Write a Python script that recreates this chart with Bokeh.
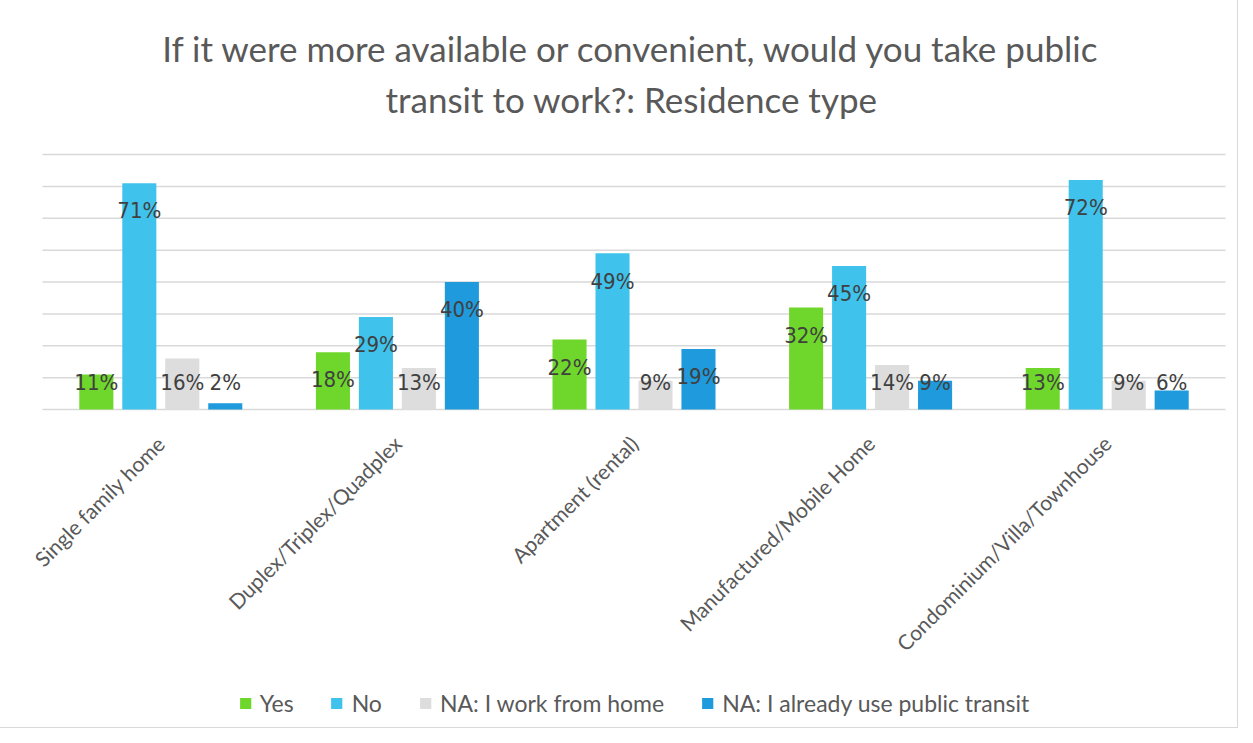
import math
from bokeh.plotting import figure
from bokeh.models import (ColumnDataSource, FactorRange, Range1d, FixedTicker,
                          Label, Legend, LegendItem)
from bokeh.transform import dodge
from bokeh.core.properties import value
from bokeh.embed import file_html
from bokeh.resources import INLINE

# ---------------- data ----------------
categories = ["Single family home", "Duplex/Triplex/Quadplex", "Apartment (rental)",
              "Manufactured/Mobile Home", "Condominium/Villa/Townhouse"]
series_names = ["Yes", "No", "NA: I work from home", "NA: I already use public transit"]
yes = [11, 18, 22, 32, 13]
no = [71, 29, 49, 45, 72]
work_from_home = [16, 13, 9, 14, 9]
already_transit = [2, 40, 19, 9, 6]
y_ticks = [0, 10, 20, 30, 40, 50, 60, 70, 80]
colors = ["#6FD72B", "#3FC3EC", "#DDDDDD", "#1F9ADC"]
title_lines = ["If it were more available or convenient, would you take public",
               "transit to work?: Residence type"]

series_values = [yes, no, work_from_home, already_transit]
offsets = [-0.2725, -0.0908, 0.0908, 0.2725]
bar_width = 0.144

# ---------------- layout ----------------
W, H = 1237, 727
base_px = 409               # canvas px row of value 0
px_per_unit = 255 / 80.0    # 80% spans 255 px
y_top = base_px / px_per_unit
y_bottom = -(H - base_px) / px_per_unit

TXT = "#595959"
title_font = "Lato"

# categories span 1183 px; frame is 1207 px -> 12 px padding on each side
x_range = FactorRange(*categories, range_padding=24 / 1183.0)

p = figure(width=W, height=H, x_range=x_range,
           y_range=Range1d(y_bottom, y_top), output_backend="svg", toolbar_location=None,
           min_border_left=30, min_border_right=0, min_border_top=0,
           min_border_bottom=0)
p.outline_line_color = None
p.background_fill_color = "white"
p.border_fill_color = "white"
p.styles = {"outline": "1px solid #D9D9D9"}

p.yaxis.visible = False
p.ygrid.ticker = FixedTicker(ticks=y_ticks)
p.ygrid.grid_line_color = None
p.xgrid.grid_line_color = None

# horizontal gridlines spanning only the category area
for t in y_ticks:
    p.segment(x0=[0], x1=[len(categories)], y0=[t], y1=[t],
              line_color="#D9D9D9", line_width=1.5, level="underlay")

p.xaxis.fixed_location = 0
p.xaxis.major_label_orientation = math.pi / 4
p.xaxis.major_label_text_font = title_font
p.xaxis.major_label_text_font_size = "21px"
p.xaxis.major_label_text_color = TXT
p.xaxis.major_tick_line_color = None
p.xaxis.minor_tick_line_color = None
p.xaxis.axis_line_color = None
p.xaxis.major_label_standoff = 24

items = []
for name, vals, col, off in zip(series_names, series_values, colors, offsets):
    src = ColumnDataSource(dict(
        cat=categories,
        val=vals,
        lab=[f"{v}%" for v in vals],
        ly=[max(v - 8.7, 8.6) for v in vals],
    ))
    r = p.vbar(x=dodge("cat", off, range=p.x_range), top="val", width=bar_width,
               source=src, fill_color=col, line_color=None)
    p.text(x=dodge("cat", off, range=p.x_range), y="ly", text="lab", source=src,
           text_align="center", text_baseline="middle",
           text_font=value("DejaVu Sans Condensed"), text_font_size="22px",
           text_color="#404040")
    items.append(LegendItem(label=name, renderers=[r]))

# title lines (alphabetic baselines)
for txt, yv in zip(title_lines, [(base_px - 47) / px_per_unit,
                                 (base_px - 98) / px_per_unit]):
    p.add_layout(Label(x=2.49, y=yv, text=txt, text_align="center",
                       text_baseline="alphabetic", text_font=title_font,
                       text_font_size="35px", text_color=TXT))

legend = Legend(items=items, orientation="horizontal", location="bottom_center",
                glyph_width=14, glyph_height=14, label_standoff=8, spacing=36,
                label_text_font=title_font, label_text_font_size="23px",
                label_text_color=TXT, border_line_color=None, padding=0,
                margin=10, background_fill_alpha=0)
p.add_layout(legend, "center")

open("out.html", "w").write(file_html(p, INLINE))
